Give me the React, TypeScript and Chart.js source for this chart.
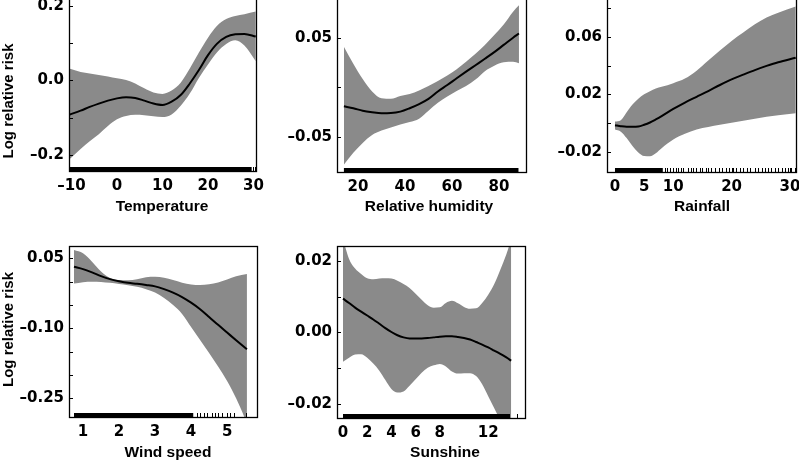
import React, { useEffect, useRef } from "react";
import { Chart, registerables } from "chart.js";

Chart.register(...registerables);

const TICK_FONT_FAMILY = '"DejaVu Sans", "Liberation Sans", Arial, sans-serif';
const TITLE_FONT_FAMILY = '"Liberation Sans", Arial, Helvetica, sans-serif';
const BAND_COLOR = "#8a8a8a";

// ---------------- Temperature ----------------
const tempX = [-10.5, -8, -6, -4, -2, 0, 2, 4, 6, 8, 10, 12, 14, 16, 18, 20, 22, 24, 26, 28, 30.5];
const tempFit = [-0.092, -0.081, -0.071, -0.062, -0.054, -0.048, -0.045, -0.047, -0.054, -0.062, -0.066, -0.057, -0.039, -0.008, 0.028, 0.068, 0.099, 0.117, 0.124, 0.125, 0.118];
const tempUpper = [0.032, 0.023, 0.019, 0.015, 0.011, 0.006, 0.001, -0.008, -0.021, -0.032, -0.036, -0.027, -0.006, 0.032, 0.075, 0.115, 0.147, 0.165, 0.173, 0.178, 0.185];
const tempLower = [-0.212, -0.184, -0.163, -0.144, -0.122, -0.104, -0.095, -0.092, -0.093, -0.096, -0.098, -0.091, -0.068, -0.035, 0.007, 0.043, 0.076, 0.098, 0.108, 0.094, 0.052];
const tempRugSpans = [[-10.5, 29.6]];
const tempRugTicks = [30.0, 30.4];
const tempXTicks = [-10, 0, 10, 20, 30];
const tempXLabels = ["\u201310", "0", "10", "20", "30"];
const tempYTicks = [-0.2, -0.1, 0, 0.1, 0.2];
const tempYLabels = ["\u20130.2", "", "0.0", "", "0.2"];

// ---------------- Relative humidity ----------------
const humX = [14, 18, 22, 26, 30, 34, 38, 42, 46, 50, 54, 58, 62, 66, 70, 74, 78, 82, 86, 88.5];
const humFit = [-0.019, -0.021, -0.0235, -0.025, -0.026, -0.0258, -0.0244, -0.021, -0.0168, -0.0115, -0.004, 0.0025, 0.0093, 0.016, 0.0225, 0.029, 0.0357, 0.043, 0.0503, 0.0545];
const humUpper = [0.041, 0.024, 0.0085, -0.004, -0.011, -0.0115, -0.0085, -0.0065, -0.003, 0.0015, 0.0065, 0.012, 0.0185, 0.026, 0.034, 0.043, 0.053, 0.0635, 0.0765, 0.083];
const humLower = [-0.078, -0.066, -0.056, -0.048, -0.0435, -0.0405, -0.0375, -0.035, -0.0315, -0.0235, -0.0155, -0.009, -0.0035, 0.0015, 0.008, 0.0165, 0.022, 0.0255, 0.026, 0.0245];
const humRugSpans = [[14, 88.3]];
const humRugTicks: number[] = [];
const humXTicks = [20, 40, 60, 80];
const humXLabels = ["20", "40", "60", "80"];
const humYTicks = [-0.05, 0, 0.05];
const humYLabels = ["\u20130.05", "", "0.05"];

// ---------------- Rainfall ----------------
const rainX = [0, 1, 2, 3, 4, 5, 6, 7, 8, 10, 12, 14, 16, 18, 20, 22, 24, 26, 28, 31];
const rainFit = [-0.0015, -0.0022, -0.0026, -0.0026, -0.0024, -0.0012, 0.0004, 0.0025, 0.0048, 0.0098, 0.0143, 0.0183, 0.0223, 0.0265, 0.0304, 0.0337, 0.0369, 0.0398, 0.0424, 0.0455];
const rainUpper = [0.001, 0.002, 0.0075, 0.013, 0.017, 0.02, 0.0222, 0.024, 0.0252, 0.0278, 0.031, 0.0365, 0.0435, 0.0505, 0.0572, 0.063, 0.0688, 0.0735, 0.0768, 0.0812];
const rainLower = [-0.0045, -0.006, -0.0105, -0.016, -0.0205, -0.023, -0.0232, -0.021, -0.0175, -0.0115, -0.0075, -0.0045, -0.0028, -0.0012, 0.0002, 0.0016, 0.003, 0.0043, 0.0055, 0.0068];
const rainRugSpans = [[0, 8.2]];
const rainRugTicks = [8.6, 9.0, 9.4, 9.9, 10.4, 10.8, 11.3, 11.7, 12.5, 13.0, 13.4, 13.9, 14.6, 15.0, 15.6, 16.0, 16.5, 17.2, 17.8, 18.3, 19.0, 19.5, 20.2, 20.8, 21.5, 22.0, 22.6, 23.2, 24.0, 24.5, 25.2, 25.7, 26.3, 26.8, 27.4, 28.0, 28.6, 29.1, 29.6, 30.2, 30.8];
const rainXTicks = [0, 5, 10, 20, 30];
const rainXLabels = ["0", "5", "10", "20", "30"];
const rainYTicks = [-0.02, 0, 0.02, 0.04, 0.06, 0.08];
const rainYLabels = ["\u20130.02", "", "0.02", "", "0.06", ""];

// ---------------- Wind speed ----------------
const windX = [0.75, 1.0, 1.25, 1.5, 1.75, 2.0, 2.25, 2.5, 2.75, 3.0, 3.25, 3.5, 3.75, 4.0, 4.25, 4.5, 4.75, 5.0, 5.25, 5.55];
const windFit = [0.032, 0.027, 0.02, 0.012, 0.0055, 0.001, -0.0025, -0.0045, -0.007, -0.01, -0.016, -0.0235, -0.033, -0.045, -0.059, -0.0755, -0.0925, -0.109, -0.1255, -0.145];
const windUpper = [0.068, 0.061, 0.043, 0.022, 0.008, 0.0035, 0.003, 0.005, 0.0095, 0.0107, 0.0085, 0.0035, -0.002, -0.006, -0.0072, -0.0055, -0.0015, 0.0045, 0.0115, 0.0165];
const windLower = [-0.004, -0.001, 0.0, -0.0005, -0.0025, -0.005, -0.0075, -0.011, -0.016, -0.023, -0.035, -0.05, -0.069, -0.097, -0.125, -0.153, -0.182, -0.213, -0.25, -0.303];
const windRugSpans = [[0.75, 4.06]];
const windRugTicks = [4.16, 4.25, 4.36, 4.44, 4.58, 4.67, 4.76, 4.85, 5.08, 5.18, 5.53];
const windXTicks = [1, 2, 3, 4, 5];
const windXLabels = ["1", "2", "3", "4", "5"];
const windYTicks = [-0.25, -0.2, -0.15, -0.1, -0.05, 0, 0.05];
const windYLabels = ["\u20130.25", "", "", "\u20130.10", "", "", "0.05"];

// ---------------- Sunshine ----------------
const sunX = [0, 0.5, 1, 1.5, 2, 2.5, 3, 3.5, 4, 4.5, 5, 5.5, 6, 6.5, 7, 7.5, 8, 8.5, 9, 9.5, 10, 10.5, 11, 11.5, 12, 12.5, 13, 13.5, 13.9];
const sunFit = [0.0094, 0.0082, 0.0069, 0.0058, 0.0047, 0.0036, 0.0024, 0.0012, 0.0001, -0.0008, -0.0014, -0.0017, -0.0017, -0.0017, -0.0016, -0.0014, -0.0012, -0.0011, -0.0011, -0.0013, -0.0016, -0.002, -0.0027, -0.0034, -0.0042, -0.0051, -0.006, -0.007, -0.0079];
const sunUpper = [0.026, 0.0205, 0.0178, 0.0163, 0.0151, 0.0148, 0.015, 0.0151, 0.015, 0.0144, 0.0135, 0.0124, 0.0108, 0.0091, 0.0076, 0.0069, 0.007, 0.0082, 0.0088, 0.0081, 0.0071, 0.0066, 0.0067, 0.0082, 0.0105, 0.0135, 0.0175, 0.0218, 0.026];
const sunLower = [-0.0082, -0.0071, -0.0062, -0.0061, -0.0071, -0.0087, -0.0107, -0.0133, -0.0158, -0.0168, -0.0165, -0.0149, -0.0131, -0.0113, -0.0099, -0.0092, -0.0088, -0.0095, -0.0109, -0.0115, -0.0114, -0.0114, -0.0122, -0.0145, -0.0178, -0.0212, -0.0245, -0.0275, -0.03];
const sunRugSpans = [[0, 13.8]];
const sunRugTicks = [14.4];
const sunXTicks = [0, 2, 4, 6, 8, 12];
const sunXLabels = ["0", "2", "4", "6", "8", "12"];
const sunYTicks = [-0.02, -0.01, 0, 0.01, 0.02];
const sunYLabels = ["\u20130.02", "", "0.00", "", "0.02"];

// ---------------- layout ----------------
const PAGE_W = 799;
const OFF = 20; // canvases start 20px above the page so the top row can bleed past it
const CANVAS_H = 462 + OFF;
const Y_AXIS_W = 65;
const X_AXIS_H = 40;
const RUG_LEN = 4;
const TICK_LEN = 4;

interface PanelSpec {
  xTitle: string;
  yTitle?: string;
  x: number[];
  fit: number[];
  upper: number[];
  lower: number[];
  rugSpans: number[][];
  rugTicks: number[];
  xTicks: number[];
  xLabels: string[];
  yTicks: number[];
  yLabels: string[];
  xMin: number;
  xMax: number;
  yMin: number;
  yMax: number;
  area: { l: number; t: number; r: number; b: number };
  xTitlePos: [number, number];
  yTitlePos?: [number, number];
}

const panels: PanelSpec[] = [
  {
    xTitle: "Temperature", yTitle: "Log relative risk",
    x: tempX, fit: tempFit, upper: tempUpper, lower: tempLower,
    rugSpans: tempRugSpans, rugTicks: tempRugTicks,
    xTicks: tempXTicks, xLabels: tempXLabels, yTicks: tempYTicks, yLabels: tempYLabels,
    xMin: -10.55, xMax: 30.55, yMin: -0.243, yMax: 0.2215,
    area: { l: 69, t: -2, r: 256, b: 171 },
    xTitlePos: [162, 210.5], yTitlePos: [13, 101],
  },
  {
    xTitle: "Relative humidity",
    x: humX, fit: humFit, upper: humUpper, lower: humLower,
    rugSpans: humRugSpans, rugTicks: humRugTicks,
    xTicks: humXTicks, xLabels: humXLabels, yTicks: humYTicks, yLabels: humYLabels,
    xMin: 11.06, xMax: 91.5, yMin: -0.0854, yMax: 0.0904,
    area: { l: 337, t: -2, r: 526, b: 172 },
    xTitlePos: [429, 210.5],
  },
  {
    xTitle: "Rainfall",
    x: rainX, fit: rainFit, upper: rainUpper, lower: rainLower,
    rugSpans: rainRugSpans, rugTicks: rainRugTicks,
    xTicks: rainXTicks, xLabels: rainXLabels, yTicks: rainYTicks, yLabels: rainYLabels,
    xMin: -1.37, xMax: 31.05, yMin: -0.0341, yMax: 0.0871,
    area: { l: 607, t: -2, r: 796, b: 172 },
    xTitlePos: [702, 210.5],
  },
  {
    xTitle: "Wind speed", yTitle: "Log relative risk",
    x: windX, fit: windFit, upper: windUpper, lower: windLower,
    rugSpans: windRugSpans, rugTicks: windRugTicks,
    xTicks: windXTicks, xLabels: windXLabels, yTicks: windYTicks, yLabels: windYLabels,
    xMin: 0.611, xMax: 5.83, yMin: -0.29, yMax: 0.0765,
    area: { l: 69, t: 246, r: 257, b: 417 },
    xTitlePos: [168, 456.5], yTitlePos: [13, 329.5],
  },
  {
    xTitle: "Sunshine",
    x: sunX, fit: sunFit, upper: sunUpper, lower: sunLower,
    rugSpans: sunRugSpans, rugTicks: sunRugTicks,
    xTicks: sunXTicks, xLabels: sunXLabels, yTicks: sunYTicks, yLabels: sunYLabels,
    xMin: -0.496, xMax: 15.04, yMin: -0.0239, yMax: 0.0241,
    area: { l: 337, t: 246, r: 525, b: 418 },
    xTitlePos: [445, 456.5],
  },
];

function PanelChart({ spec }: { spec: PanelSpec }) {
  const ref = useRef<HTMLCanvasElement | null>(null);

  useEffect(() => {
    const canvas = ref.current;
    if (!canvas) return;
    const pts = (ys: number[]) => spec.x.map((x, i) => ({ x, y: ys[i] }));
    const tickFont = { family: TICK_FONT_FAMILY, size: 15, weight: "bold" as const };

    const decor = {
      id: "decor",
      afterDatasetsDraw(chart: any) {
        const { ctx, chartArea: a, scales } = chart;
        const xs = scales.x;
        const ys = scales.y;
        ctx.save();
        ctx.fillStyle = "#000";
        ctx.strokeStyle = "#000";
        // rug
        for (const [s, e] of spec.rugSpans) {
          const p1 = xs.getPixelForValue(s);
          const p2 = xs.getPixelForValue(e);
          ctx.fillRect(p1, a.bottom - RUG_LEN, p2 - p1, RUG_LEN);
        }
        ctx.lineWidth = 1;
        ctx.beginPath();
        for (const v of spec.rugTicks) {
          const p = Math.round(xs.getPixelForValue(v)) + 0.5;
          ctx.moveTo(p, a.bottom);
          ctx.lineTo(p, a.bottom - RUG_LEN);
        }
        // inward tick marks
        for (const v of spec.yTicks) {
          const p = Math.round(ys.getPixelForValue(v)) + 0.5;
          ctx.moveTo(a.left, p);
          ctx.lineTo(a.left + TICK_LEN, p);
        }
        for (const v of spec.xTicks) {
          const p = Math.round(xs.getPixelForValue(v)) + 0.5;
          ctx.moveTo(p, a.bottom);
          ctx.lineTo(p, a.bottom - TICK_LEN);
        }
        ctx.stroke();
        // frame
        ctx.lineWidth = 1.3;
        ctx.strokeRect(a.left + 0.5, a.top + 0.5, a.right - a.left, a.bottom - a.top);
        // axis titles
        ctx.font = `bold 15.5px ${TITLE_FONT_FAMILY}`;
        ctx.textAlign = "center";
        ctx.textBaseline = "alphabetic";
        ctx.fillText(spec.xTitle, spec.xTitlePos[0], spec.xTitlePos[1] + OFF);
        if (spec.yTitle && spec.yTitlePos) {
          ctx.font = `bold 15px ${TITLE_FONT_FAMILY}`;
          ctx.translate(spec.yTitlePos[0], spec.yTitlePos[1] + OFF);
          ctx.rotate(-Math.PI / 2);
          ctx.fillText(spec.yTitle, 0, 0);
        }
        ctx.restore();
      },
    };

    const { l, t, r, b } = spec.area;
    const chart = new Chart(canvas, {
      type: "line",
      data: {
        datasets: [
          {
            data: pts(spec.upper),
            borderWidth: 0,
            pointRadius: 0,
            backgroundColor: BAND_COLOR,
            fill: "+1",
            cubicInterpolationMode: "monotone",
            order: 1,
          },
          {
            data: pts(spec.lower),
            borderWidth: 0,
            pointRadius: 0,
            fill: false,
            cubicInterpolationMode: "monotone",
            order: 2,
          },
          {
            data: pts(spec.fit),
            borderColor: "#000",
            borderWidth: 2,
            pointRadius: 0,
            fill: false,
            cubicInterpolationMode: "monotone",
            order: -1,
            clip: 0,
          },
        ],
      },
      options: {
        responsive: false,
        animation: false,
        devicePixelRatio: 1,
        events: [],
        layout: {
          padding: {
            left: l - Y_AXIS_W,
            right: PAGE_W - r,
            top: t + OFF,
            bottom: CANVAS_H - (b + OFF) - X_AXIS_H,
          },
        },
        plugins: {
          legend: { display: false },
          tooltip: { enabled: false },
          title: { display: false },
        },
        scales: {
          x: {
            type: "linear",
            min: spec.xMin,
            max: spec.xMax,
            grid: { display: false, drawTicks: false },
            border: { display: false },
            ticks: {
              autoSkip: false,
              maxRotation: 0,
              minRotation: 0,
              padding: 6,
              color: "#000",
              font: tickFont,
              callback: (_v: any, i: number) => spec.xLabels[i],
            },
            afterBuildTicks: (s: any) => {
              s.ticks = spec.xTicks.map((v) => ({ value: v }));
            },
            afterFit: (s: any) => {
              s.height = X_AXIS_H;
              s.paddingLeft = 0;
              s.paddingRight = 0;
              s.paddingTop = 0;
              s.paddingBottom = 0;
            },
          },
          y: {
            type: "linear",
            min: spec.yMin,
            max: spec.yMax,
            grid: { display: false, drawTicks: false },
            border: { display: false },
            ticks: {
              autoSkip: false,
              padding: 5,
              color: "#000",
              font: tickFont,
              callback: (_v: any, i: number) => spec.yLabels[i],
            },
            afterBuildTicks: (s: any) => {
              s.ticks = spec.yTicks.map((v) => ({ value: v }));
            },
            afterFit: (s: any) => {
              s.width = Y_AXIS_W;
              s.paddingLeft = 0;
              s.paddingRight = 0;
              s.paddingTop = 0;
              s.paddingBottom = 0;
            },
          },
        },
      } as any,
      plugins: [decor],
    });
    return () => chart.destroy();
  }, [spec]);

  return (
    <canvas
      ref={ref}
      width={PAGE_W}
      height={CANVAS_H}
      style={{ position: "absolute", left: 0, top: -OFF, width: PAGE_W, height: CANVAS_H, display: "block" }}
    />
  );
}

export default function App() {
  return (
    <div
      style={{
        position: "absolute",
        left: 0,
        top: 0,
        width: PAGE_W,
        height: 462,
        overflow: "hidden",
        background: "#fff",
      }}
    >
      {panels.map((p, i) => (
        <PanelChart key={i} spec={p} />
      ))}
    </div>
  );
}
